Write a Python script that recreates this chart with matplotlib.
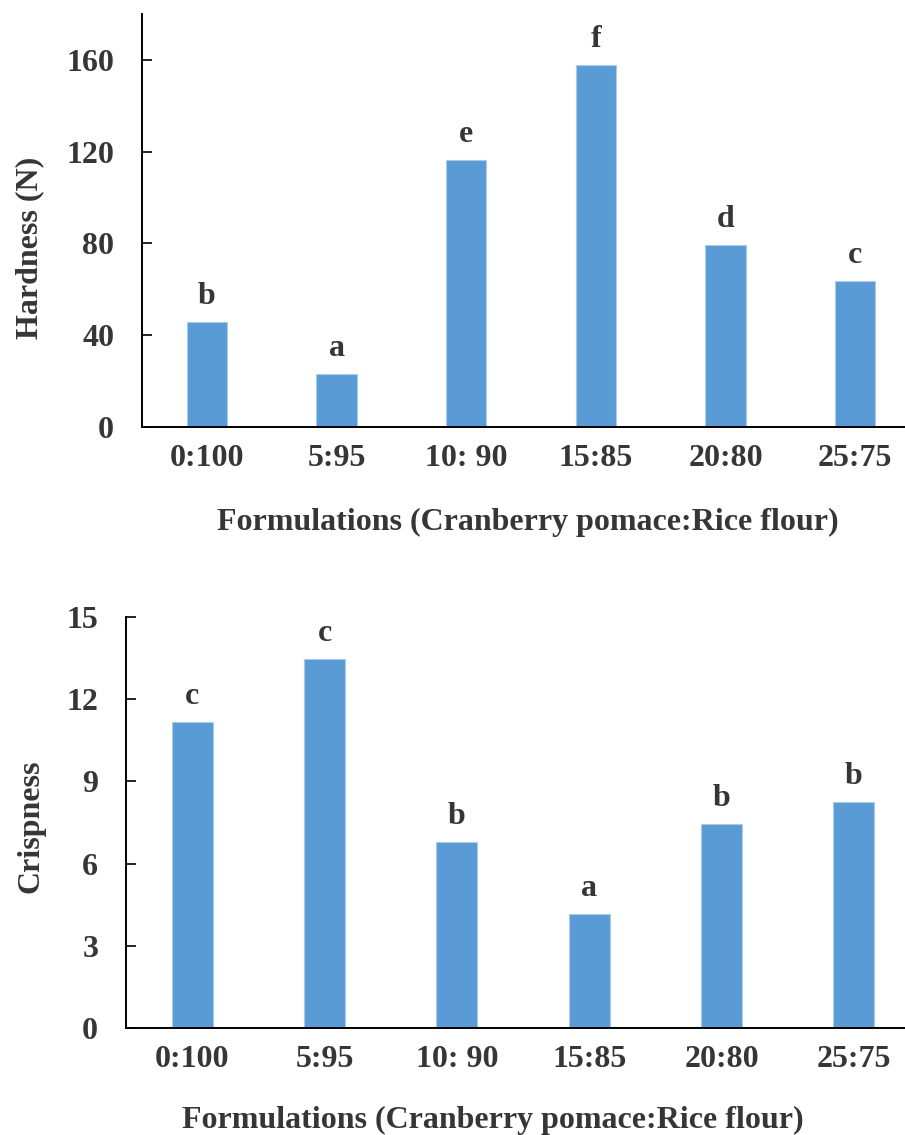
import matplotlib
matplotlib.use("Agg")
import matplotlib.pyplot as plt

# ---- data ----
formulations = ["0:100", "5:95", "10: 90", "15:85", "20:80", "25:75"]
hardness = [45.9, 22.9, 116.4, 157.7, 79.2, 63.8]
hardness_letters = ["b", "a", "e", "f", "d", "c"]
crispness = [11.16, 13.48, 6.79, 4.16, 7.43, 8.23]
crispness_letters = ["c", "c", "b", "a", "b", "b"]
hardness_ticks = [0, 40, 80, 120, 160]
crispness_ticks = [0, 3, 6, 9, 12, 15]

BAR = "#5B9BD5"
EDGE = "#A9CBEA"
TXT = "#363636"
FS = 23

plt.rcParams["font.family"] = ["Liberation Serif", "DejaVu Serif"]
plt.rcParams["font.weight"] = "bold"

W, H = 905, 1135
fig = plt.figure(figsize=(W / 100, H / 100), dpi=100)


def px_axes(left, right, top, bottom):
    return [left / W, (H - bottom) / H, (right - left) / W, (bottom - top) / H]


def panel(rect, values, letters, ticks, ymax, ylabel):
    ax = fig.add_axes(rect)
    x = list(range(len(formulations)))
    ax.bar(x, values, width=0.31, color=BAR, edgecolor=EDGE, linewidth=0.8, zorder=2)
    ax.set_xlim(-0.5, len(formulations) - 0.5)
    ax.set_ylim(0, ymax)
    ax.set_yticks(ticks)
    ax.set_yticklabels([str(t) for t in ticks])
    ax.set_xticks(x)
    ax.set_xticklabels(formulations)
    for xi, v, l in zip(x, values, letters):
        ax.annotate(l, (xi, v), xytext=(0, 13), textcoords="offset points",
                    ha="center", va="baseline", fontsize=FS, fontweight="bold",
                    color=TXT)
    for s in ["top", "right"]:
        ax.spines[s].set_visible(False)
    for s in ["left", "bottom"]:
        ax.spines[s].set_linewidth(1.4)
        ax.spines[s].set_color("black")
    ax.tick_params(axis="y", direction="in", length=7, width=1.2, pad=20,
                   labelsize=FS, labelcolor=TXT)
    ax.tick_params(axis="x", length=0, pad=12, labelsize=FS, labelcolor=TXT)
    for lab in ax.get_xticklabels() + ax.get_yticklabels():
        lab.set_fontweight("bold")
    ax.set_ylabel(ylabel, fontsize=FS, fontweight="bold", color=TXT)
    ax.set_xlabel("Formulations (Cranberry pomace:Rice flour)", fontsize=FS,
                  fontweight="bold", color=TXT)
    ax.xaxis.label.set_va("center")
    ax.yaxis.label.set_va("center")
    ax.set_facecolor("none")
    return ax


ax1 = panel(px_axes(142, 920, 14, 427), hardness, hardness_letters,
            hardness_ticks, 180, "Hardness (N)")
ax1.yaxis.set_label_coords((30 - 142) / 778, 0.433)
ax1.xaxis.set_label_coords((528 - 142) / 778, -(522 - 427) / 413)

ax2 = panel(px_axes(126, 920, 617, 1028), crispness, crispness_letters,
            crispness_ticks, 15, "Crispness")
ax2.yaxis.set_label_coords((31 - 126) / 794, 0.49)
ax2.xaxis.set_label_coords((493 - 126) / 794, -(1120 - 1028) / 411)

fig.savefig("out.png", dpi=100)
